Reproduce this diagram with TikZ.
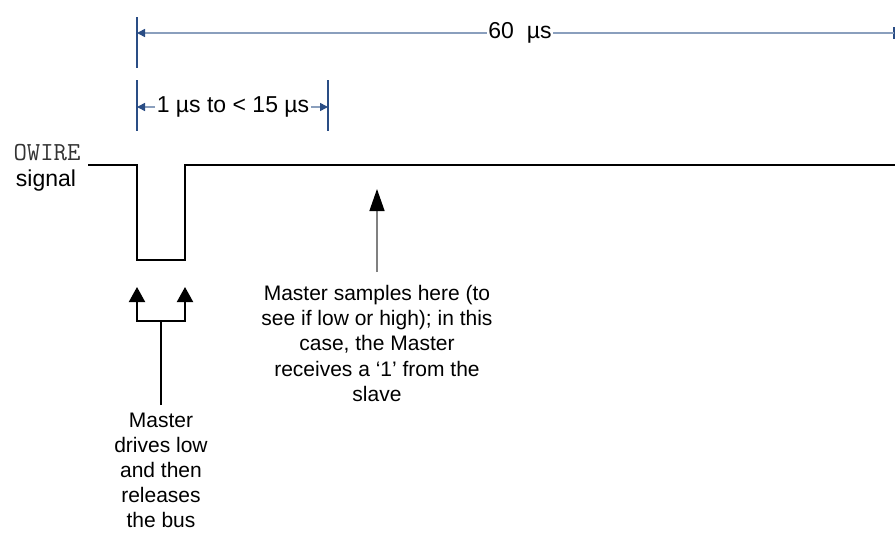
\documentclass[tikz,border=0pt]{standalone}
\usepackage{fontspec}
\setmainfont{Liberation Sans}
\usetikzlibrary{arrows.meta}
\definecolor{dimlight}{HTML}{8A9FBD}
\definecolor{dimdark}{HTML}{2A4D85}
\definecolor{samplegray}{HTML}{808080}
\begin{document}
\begin{tikzpicture}[x=1pt,y=-1pt,
  font=\fontsize{23}{25}\selectfont,
  sigline/.style={line width=2pt,black},
  dimtick/.style={line width=2pt,dimdark},
  dimline/.style={line width=1.6pt,dimlight},
  dimhead/.style={-{Triangle[length=8pt,width=8pt,color=dimdark]}},
  dimlabel/.style={inner sep=1.5pt},
  notetext/.style={align=center,inner sep=0pt,anchor=north,font=\fontsize{21}{25.2}\selectfont},
  blackarrow/.style={line width=2pt,black,-{Triangle[length=15pt,width=16pt]}},
  grayarrow/.style={line width=1.4pt,samplegray,-{Triangle[length=22pt,width=15pt,color=black]}}]
\useasboundingbox (0,0) rectangle (895,533);
% signal
\coordinate (s0) at (88,165);
\coordinate (d1) at (137,165);
\coordinate (d2) at (137,260);
\coordinate (d3) at (185,260);
\coordinate (d4) at (185,165);
\coordinate (s5) at (895,165);
\draw[sigline] (s0) -- (d1) -- (d2) -- (d3) -- (d4) -- (s5);
\node[font=\fontsize{26}{26}\ttfamily, text=black!80] (owire) at (47,153) {OWIRE};
\node (signal) at (46,181) {signal};
% ticks
\coordinate (t1a) at (137,17); \coordinate (t1b) at (137,68);
\coordinate (t2a) at (137,80); \coordinate (t2b) at (137,131);
\coordinate (t3a) at (328,80); \coordinate (t3b) at (328,131);
\coordinate (t4a) at (894,27); \coordinate (t4b) at (894,39);
\draw[dimtick] (t1a) -- (t1b);
\draw[dimtick] (t2a) -- (t2b);
\draw[dimtick] (t3a) -- (t3b);
\draw[dimtick] (t4a) -- (t4b);
% 60 us dimension
\coordinate (a60l) at (137,33);
\coordinate (a60r) at (894,33);
\node[dimlabel] (lab60) at (520,33) {60\ \ µs};
\draw[dimline,dimhead] (lab60.west) -- (a60l);
\draw[dimline] (lab60.east) -- (a60r);
% 1 us to < 15 us dimension
\coordinate (a15l) at (137,107);
\coordinate (a15r) at (328,107);
\node[dimlabel] (lab15) at (233,107) {1 µs to < 15 µs};
\draw[dimline,dimhead] (lab15.west) -- (a15l);
\draw[dimline,dimhead] (lab15.east) -- (a15r);
% sample arrow
\coordinate (sampbot) at (377,272);
\coordinate (samptip) at (377,189);
\draw[grayarrow] (sampbot) -- (samptip);
\node[notetext] (samptext) at (377,285) {Master samples here (to\\see if low or high); in this\\case, the Master\\receives a ‘1’ from the\\slave};
% drive arrows
\coordinate (stembot) at (161,405);
\coordinate (branch) at (161,321);
\coordinate (tipl) at (137,287);
\coordinate (tipr) at (185,287);
\draw[blackarrow] (stembot) -- (branch) -| (tipl);
\draw[blackarrow] (branch) -| (tipr);
\node[notetext] (drivetext) at (161,412.5) {Master\\drives low\\and then\\releases\\the bus};
\end{tikzpicture}
\end{document}
